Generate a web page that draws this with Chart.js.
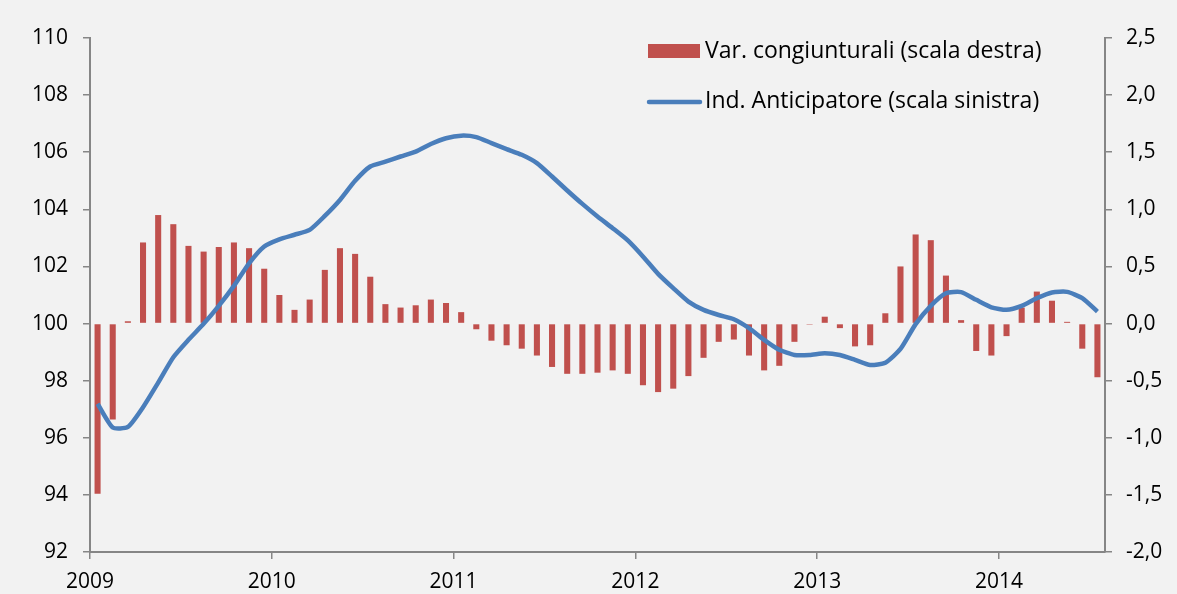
<!DOCTYPE html>
<html>
<head>
<meta charset="utf-8">
<script src="https://cdn.jsdelivr.net/npm/chart.js@4.4.1/dist/chart.umd.min.js"></script>
<style>
  html, body { margin: 0; padding: 0; background: #f2f2f2; }
  #wrap { position: relative; width: 1177px; height: 594px; }
</style>
</head>
<body>
<div id="wrap"><canvas id="c" width="1177" height="594"></canvas></div>
<script>
// Monthly data, Jan 2009 – Jul 2014
const yearTicks = ["2009", "2010", "2011", "2012", "2013", "2014"];
const leftTicks = [92, 94, 96, 98, 100, 102, 104, 106, 108, 110];
const rightTicks = ["-2,0", "-1,5", "-1,0", "-0,5", "0,0", "0,5", "1,0", "1,5", "2,0", "2,5"];

// Var. congiunturali (scala destra)
const varCongiunturali = [
  -1.49, -0.84, 0.02, 0.71, 0.95, 0.87, 0.68, 0.63, 0.67, 0.71, 0.66, 0.48,
   0.25, 0.12, 0.21, 0.47, 0.66, 0.61, 0.41, 0.17, 0.14, 0.16, 0.21, 0.18,
   0.10, -0.05, -0.15, -0.19, -0.22, -0.28, -0.38, -0.44, -0.44, -0.43, -0.41, -0.44,
  -0.54, -0.60, -0.57, -0.46, -0.30, -0.16, -0.14, -0.28, -0.41, -0.37, -0.16, -0.01,
   0.06, -0.04, -0.20, -0.19, 0.09, 0.50, 0.78, 0.73, 0.42, 0.03, -0.24, -0.28,
  -0.11, 0.14, 0.28, 0.20, 0.015, -0.22, -0.47
];

// Ind. Anticipatore (scala sinistra)
const indAnticipatore = [
   97.19, 96.36, 96.38, 97.07, 97.93, 98.82, 99.43, 99.99, 100.62, 101.32, 102.11, 102.70,
  102.95, 103.11, 103.28, 103.77, 104.33, 105.00, 105.50, 105.67, 105.85, 106.02, 106.29, 106.49,
  106.58, 106.53, 106.32, 106.11, 105.91, 105.62, 105.15, 104.66, 104.19, 103.75, 103.34, 102.91,
  102.35, 101.74, 101.24, 100.77, 100.48, 100.30, 100.15, 99.84, 99.43, 99.08, 98.90, 98.90,
   98.96, 98.90, 98.73, 98.55, 98.63, 99.11, 99.98, 100.62, 101.06, 101.10, 100.83, 100.57,
  100.48, 100.62, 100.89, 101.09, 101.11, 100.89, 100.42
];

const barPoints = varCongiunturali.map((v, i) => ({ x: i + 0.5, y: v }));
const linePoints = indAnticipatore.map((v, i) => ({ x: i + 0.5, y: v }));

const BAR_COLOR = '#c0504d';
const LINE_COLOR = '#4a7ebb';
const AXIS_COLOR = '#868686';
const FONT = '"Open Sans", "Liberation Sans", sans-serif';

const legendPlugin = {
  id: 'insideLegend',
  afterDraw(chart) {
    const ctx = chart.ctx;
    ctx.save();
    ctx.font = '23px ' + FONT;
    ctx.textBaseline = 'middle';
    ctx.textAlign = 'left';
    ctx.fillStyle = BAR_COLOR;
    ctx.fillRect(648, 44, 52, 14);
    ctx.fillStyle = '#000';
    ctx.fillText(chart.data.datasets[1].label, 705, 51);
    ctx.strokeStyle = LINE_COLOR;
    ctx.lineWidth = 4.5;
    ctx.lineCap = 'round';
    ctx.beginPath();
    ctx.moveTo(649, 102);
    ctx.lineTo(700, 102);
    ctx.stroke();
    ctx.fillText(chart.data.datasets[0].label, 705, 101);
    ctx.restore();
  }
};

new Chart(document.getElementById('c'), {
  data: {
    datasets: [
      {
        type: 'line',
        label: 'Ind. Anticipatore (scala sinistra)',
        data: linePoints,
        xAxisID: 'x',
        yAxisID: 'y',
        borderColor: LINE_COLOR,
        borderWidth: 4.5,
        pointRadius: 0,
        tension: 0.2,
        fill: false,
        order: 0
      },
      {
        type: 'bar',
        label: 'Var. congiunturali (scala destra)',
        data: barPoints,
        xAxisID: 'x',
        yAxisID: 'y1',
        backgroundColor: BAR_COLOR,
        borderWidth: 0,
        barPercentage: 0.4,
        categoryPercentage: 1.0,
        order: 1
      }
    ]
  },
  options: {
    responsive: false,
    animation: false,
    devicePixelRatio: 1,
    layout: { padding: { top: 38, left: 0, right: 0, bottom: 0 } },
    plugins: { legend: { display: false }, tooltip: { enabled: false } },
    scales: {
      x: {
        type: 'linear',
        position: 'bottom',
        min: 0,
        max: 67,
        offset: false,
        afterFit(s) { s.height = 42; },
        afterBuildTicks(s) {
          s.ticks = yearTicks.map((t, i) => ({ value: i * 12 }));
        },
        ticks: {
          autoSkip: false,
          maxRotation: 0,
          padding: 10,
          color: '#000',
          font: { family: FONT, size: 21 },
          callback: (v) => yearTicks[Math.round(v / 12)]
        },
        grid: { offset: false, drawOnChartArea: false, drawTicks: true, tickLength: 7, color: AXIS_COLOR, lineWidth: 1.5 },
        border: { display: true, color: AXIS_COLOR, width: 2 }
      },
      y: {
        type: 'linear',
        position: 'left',
        min: 92,
        max: 110,
        afterFit(s) { s.width = 90; },
        afterBuildTicks(s) { s.ticks = leftTicks.map(v => ({ value: v })); },
        ticks: {
          padding: 15,
          color: '#000',
          font: { family: FONT, size: 21 },
          callback: (v) => String(v)
        },
        grid: { drawOnChartArea: false, drawTicks: true, tickLength: 7, color: AXIS_COLOR, lineWidth: 1.5 },
        border: { display: true, color: AXIS_COLOR, width: 2 }
      },
      y1: {
        type: 'linear',
        position: 'right',
        min: -2.0,
        max: 2.5,
        afterFit(s) { s.width = 72; },
        afterBuildTicks(s) { s.ticks = rightTicks.map((t, i) => ({ value: -2.0 + i * 0.5 })); },
        ticks: {
          padding: 14,
          color: '#000',
          font: { family: FONT, size: 21 },
          callback: (v, i) => rightTicks[i]
        },
        grid: { drawOnChartArea: false, drawTicks: true, tickLength: 7, color: AXIS_COLOR, lineWidth: 1.5 },
        border: { display: true, color: AXIS_COLOR, width: 2 }
      }
    }
  },
  plugins: [legendPlugin]
});
</script>
</body>
</html>
